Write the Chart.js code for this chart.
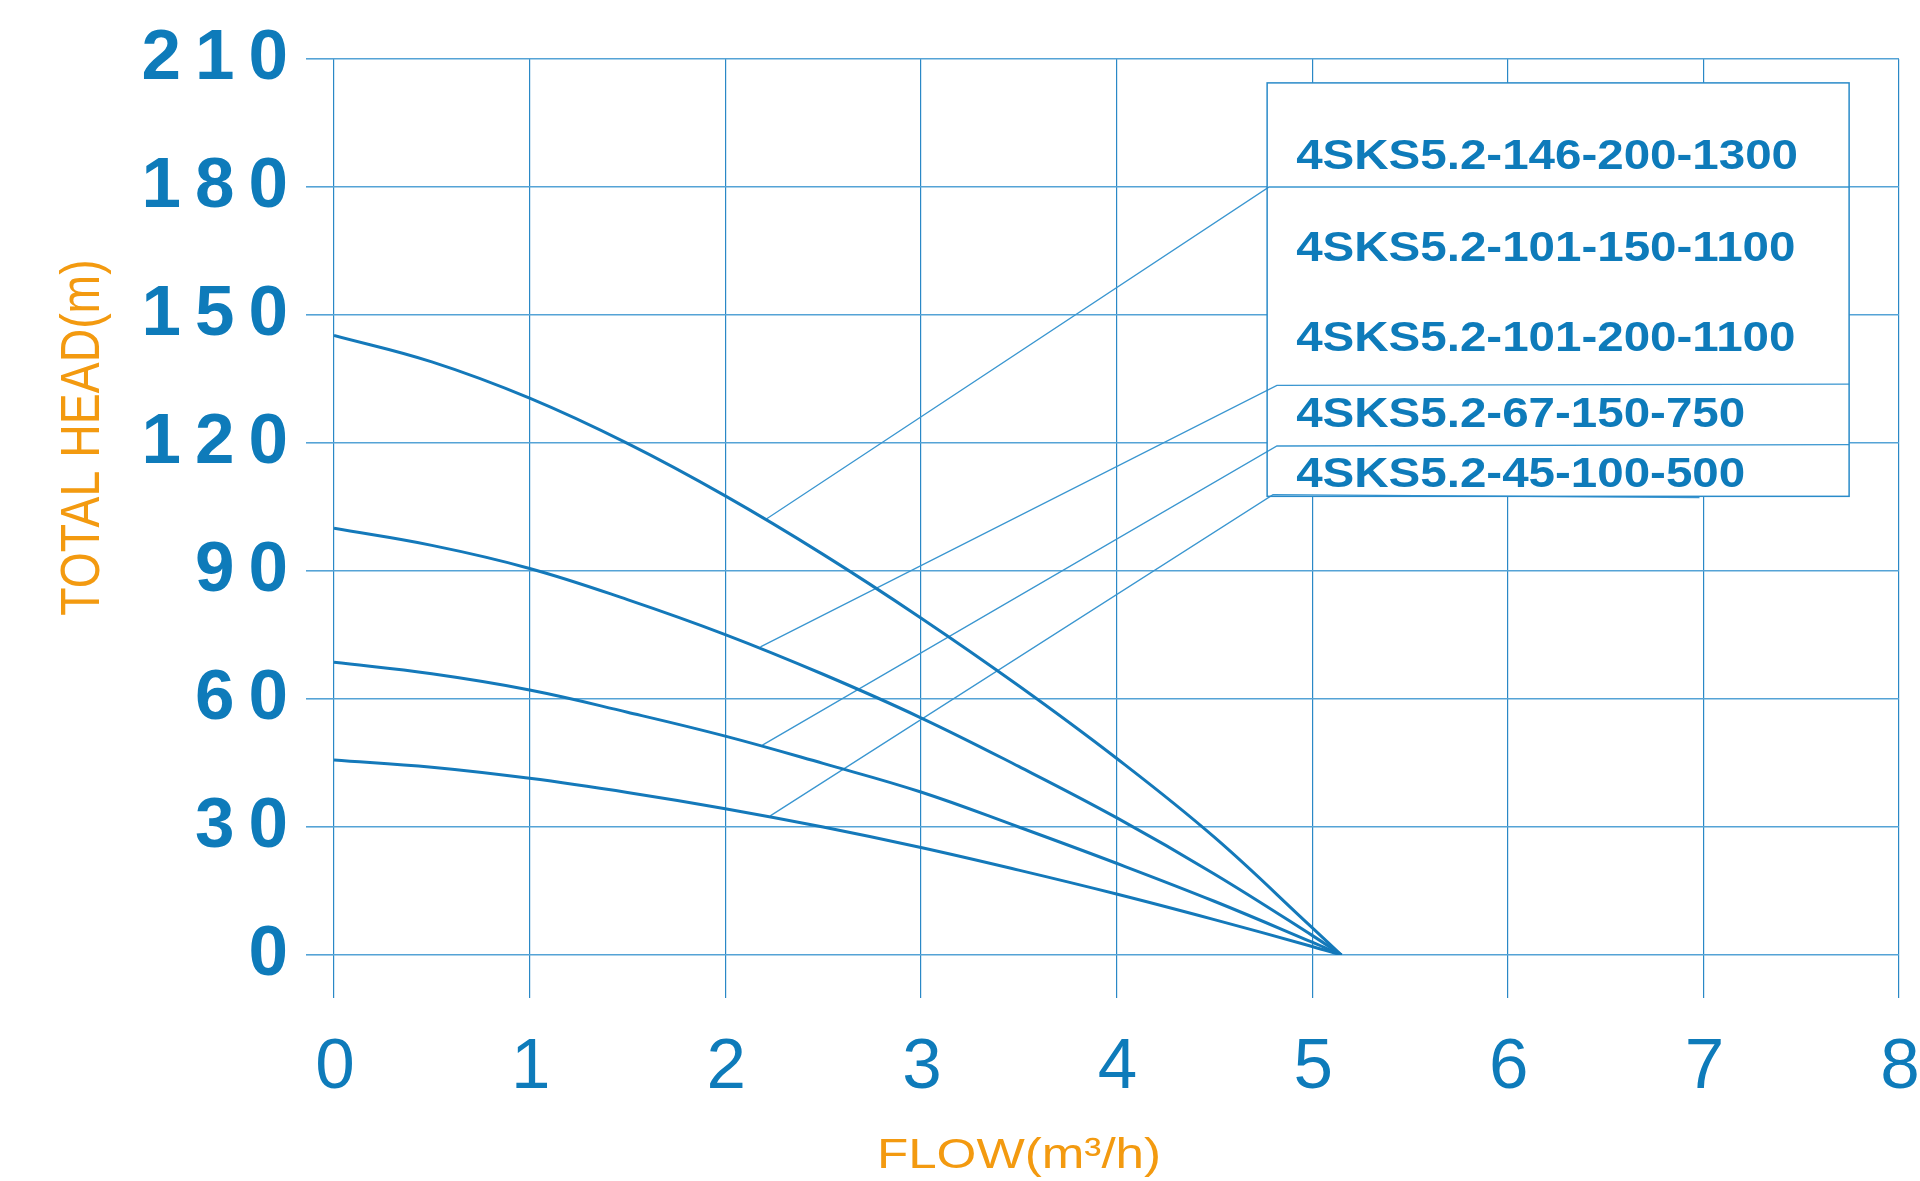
<!DOCTYPE html>
<html>
<head>
<meta charset="utf-8">
<title>Pump curves 4SKS5.2</title>
<script src="https://cdn.jsdelivr.net/npm/chart.js@4.4.1/dist/chart.umd.min.js"></script>
<style>
  html, body { margin: 0; padding: 0; background: #ffffff; }
  #wrap { width: 1920px; height: 1181px; }
</style>
</head>
<body>
<div id="wrap"><canvas id="c" width="1920" height="1181"></canvas></div>
<script>
// ---------------- data ----------------
const flowTicks = [0, 1, 2, 3, 4, 5, 6, 7, 8];
const headTicks = [0, 30, 60, 90, 120, 150, 180, 210];

const flow    = [0, 0.5, 1, 1.5, 2, 2.5, 3, 3.5, 4, 4.5, 5, 5.15];
const head146 = [145.2, 139.0, 130.5, 119.9, 107.6, 93.9, 79.0, 63.1, 46.1, 27.6, 6.4, 0];
const head101 = [100, 96.0, 90.6, 83.3, 75.1, 65.8, 55.6, 44.2, 32.2, 19.0, 4.6, 0];
const head67  = [68.6, 65.9, 62.1, 56.9, 51.3, 44.9, 38.2, 30.0, 21.5, 12.6, 3.0, 0];
const head45  = [45.7, 44.0, 41.4, 38.1, 34.3, 30.0, 25.2, 19.9, 14.3, 8.3, 2.0, 0];

const models = [
  '4SKS5.2-146-200-1300',
  '4SKS5.2-101-150-1100',
  '4SKS5.2-101-200-1100',
  '4SKS5.2-67-150-750',
  '4SKS5.2-45-100-500'
];

// leader lines (label pointers): curve point -> elbow -> end of underline
const leader146X = [2.21, 4.78, 7.745];
const leader146Y = [102.2, 180, 180];
const leader101X = [2.18, 4.82, 7.745];
const leader101Y = [72.2, 133.5, 133.8];
const leader67X  = [2.19, 4.82, 7.745];
const leader67Y  = [49.2, 119.3, 119.6];
const leader45X  = [2.23, 4.80, 6.98];
const leader45Y  = [32.6, 107.9, 107.2];

const xTitle = 'FLOW(m³/h)';
const yTitle = 'TOTAL HEAD(m)';

// ---------------- helpers ----------------
const pts = (xs, ys) => xs.map((v, i) => ({ x: v, y: ys[i] }));

const BLUE = '#0e7bba';
const CURVE = '#1479ba';
const LEADER = '#3a96d0';
const ORANGE = '#f39a10';

function curveDs(label, ys) {
  return {
    label, data: pts(flow, ys), borderColor: CURVE, borderWidth: 3,
    pointRadius: 0, tension: 0.4, fill: false, order: 1
  };
}
function leaderDs(label, xs, ys) {
  return {
    label, data: pts(xs, ys), borderColor: LEADER, borderWidth: 1.3,
    pointRadius: 0, tension: 0, fill: false, order: 2
  };
}

// legend box (in data units) and text baselines (pixels below box top)
const boxCfg = { x0: 4.77, x1: 7.745, yTop: 204.4, yBottom: 107.5,
  textDx: 29, baselines: [86.6, 178.3, 268.3, 344, 404] };

const overlay = {
  id: 'overlay',
  beforeDraw(chart) {
    chart.ctx.letterSpacing = '14px';
  },
  beforeDatasetsDraw(chart) {
    const { ctx, scales: { x, y } } = chart;
    const l = x.getPixelForValue(boxCfg.x0), r = x.getPixelForValue(boxCfg.x1);
    const t = y.getPixelForValue(boxCfg.yTop), b = y.getPixelForValue(boxCfg.yBottom);
    ctx.save();
    ctx.fillStyle = '#ffffff';
    ctx.fillRect(l, t, r - l, b - t);
    ctx.restore();
  },
  afterDatasetsDraw(chart) {
    const { ctx, scales: { x, y } } = chart;
    const l = x.getPixelForValue(boxCfg.x0), r = x.getPixelForValue(boxCfg.x1);
    const t = y.getPixelForValue(boxCfg.yTop), b = y.getPixelForValue(boxCfg.yBottom);
    ctx.save();
    ctx.letterSpacing = '0px';
    ctx.strokeStyle = '#2a8bc9';
    ctx.lineWidth = 1.5;
    ctx.strokeRect(l, t, r - l, b - t);
    ctx.fillStyle = BLUE;
    ctx.font = 'bold 43px "Liberation Sans", Arial, sans-serif';
    ctx.textAlign = 'left';
    ctx.textBaseline = 'alphabetic';
    models.forEach((m, i) => {
      ctx.save();
      ctx.translate(l + boxCfg.textDx, t + boxCfg.baselines[i]);
      ctx.scale(1.105, 1);
      ctx.fillText(m, 0, 0);
      ctx.restore();
    });
    ctx.restore();
  },
  afterDraw(chart) {
    const { ctx } = chart;
    ctx.save();
    ctx.letterSpacing = '0px';
    ctx.fillStyle = ORANGE;
    // y title
    ctx.save();
    ctx.translate(99, 437.6);
    ctx.scale(1.18, 1);
    ctx.rotate(-Math.PI / 2);
    ctx.font = '46.4px "Liberation Sans", Arial, sans-serif';
    ctx.textAlign = 'center';
    ctx.textBaseline = 'alphabetic';
    ctx.fillText(yTitle, 0, 0);
    ctx.restore();
    // x title
    ctx.save();
    ctx.translate(1019, 1168);
    ctx.scale(1.19, 1);
    ctx.font = '43px "Liberation Sans", Arial, sans-serif';
    ctx.textAlign = 'center';
    ctx.textBaseline = 'alphabetic';
    ctx.fillText(xTitle, 0, 0);
    ctx.restore();
    ctx.restore();
  }
};

const ctx = document.getElementById('c').getContext('2d');
new Chart(ctx, {
  type: 'line',
  data: {
    datasets: [
      curveDs(models[0], head146),
      curveDs(models[2], head101),
      curveDs(models[3], head67),
      curveDs(models[4], head45),
      leaderDs('leader ' + models[0], leader146X, leader146Y),
      leaderDs('leader ' + models[2], leader101X, leader101Y),
      leaderDs('leader ' + models[3], leader67X, leader67Y),
      leaderDs('leader ' + models[4], leader45X, leader45Y)
    ]
  },
  options: {
    responsive: false,
    animation: false,
    devicePixelRatio: 1,
    layout: { padding: { top: 59, right: 21, bottom: 0, left: 0 } },
    plugins: { legend: { display: false }, tooltip: { enabled: false }, title: { display: false } },
    scales: {
      x: {
        type: 'linear', min: 0, max: 8,
        afterBuildTicks: (s) => { s.ticks = flowTicks.map(v => ({ value: v })); },
        afterFit: (s) => { s.height = 226; s.paddingLeft = 0; s.paddingRight = 0; },
        border: { display: false },
        grid: { color: '#2a88c6', lineWidth: 1.2, tickLength: 43, drawTicks: true },
        ticks: {
          color: BLUE, padding: 28, labelOffset: 8, maxRotation: 0, autoSkip: false,
          font: { family: '"Liberation Sans", Arial, sans-serif', size: 71, weight: 'normal' }
        }
      },
      y: {
        type: 'linear', min: 0, max: 210,
        afterBuildTicks: (s) => { s.ticks = headTicks.map(v => ({ value: v })); },
        afterFit: (s) => { s.width = 334; s.paddingTop = 0; s.paddingBottom = 0; },
        border: { display: false },
        grid: { color: '#55a3d6', lineWidth: 1.6, tickLength: 28, drawTicks: true },
        ticks: {
          color: BLUE, padding: 4, autoSkip: false,
          font: { family: '"Liberation Sans", Arial, sans-serif', size: 71, weight: 'bold' }
        }
      }
    }
  },
  plugins: [overlay]
});
</script>
</body>
</html>
